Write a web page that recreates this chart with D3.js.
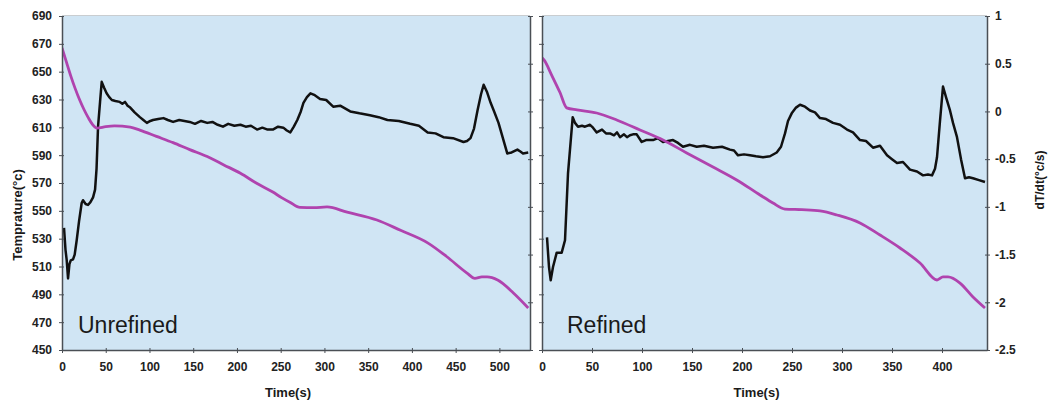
<!DOCTYPE html>
<html>
<head>
<meta charset="utf-8">
<script src="https://cdn.jsdelivr.net/npm/d3@7"></script>
<style>
  html, body { margin: 0; padding: 0; background: #ffffff; }
  svg { display: block; }
  .tick text { font-family: "Liberation Sans", Arial, sans-serif; font-weight: bold; font-size: 12px; fill: #222; }
</style>
</head>
<body>
<svg id="chart" width="1048" height="405"></svg>
<script>
// ---------- data ----------
const tempTicks = [450, 470, 490, 510, 530, 550, 570, 590, 610, 630, 650, 670, 690];
const rateTicks = [1, 0.5, 0, -0.5, -1, -1.5, -2, -2.5];
const timeTicksUnref = [0, 50, 100, 150, 200, 250, 300, 350, 400, 450, 500];
const timeTicksRef = [0, 50, 100, 150, 200, 250, 300, 350, 400];
const panelNames = ["Unrefined", "Refined"];

// Unrefined: temperature (°C) vs time (s)
const tempUnrefTime = [0, 5, 10, 15, 20, 25, 30, 35, 40, 50, 60, 78, 89, 108, 127, 146, 166, 185, 204, 222, 241, 251, 261, 272, 288, 303, 326, 360, 387, 418, 440, 463, 472, 480, 486, 498, 516, 533];
const tempUnref = [667, 657, 647, 638, 630, 623, 617, 612, 609.5, 610.5, 611, 610.2, 608, 603.5, 599, 594, 589, 583, 577, 570, 563.5, 559.5, 556, 552.5, 552.3, 552.8, 549, 543.4, 536, 527, 517, 505.3, 501.5, 502.5, 502.5, 500.3, 491, 480.2];

// Unrefined: cooling rate dT/dt (°C/s) vs time (s)
const rateUnrefTime = [2.3, 4, 5.4, 6.9, 8.5, 10, 12.6, 14.5, 16.8, 19.5, 22.5, 24, 27, 29.7, 32.5, 35.5, 37.8, 39.5, 41.2, 43.5, 45.4, 48, 51, 54, 57, 61, 66, 69, 72, 75, 78, 83, 89, 93, 97, 101, 104, 110, 116, 121, 127, 134, 140, 146, 152, 159, 166, 172, 178, 184, 190, 197, 204, 210, 216, 223, 229, 235, 241, 247, 253, 257, 261, 265, 269, 273, 276, 280, 284, 289, 295, 302, 310, 318, 329.5, 340, 352, 362, 372, 385, 398, 408, 418, 427, 436, 447, 459, 463, 467, 471, 475, 479, 482, 486, 490, 494, 499, 504, 509, 514, 520.6, 524, 527, 533];
const rateUnref = [-1.22, -1.45, -1.56, -1.75, -1.6, -1.56, -1.55, -1.5, -1.35, -1.15, -0.96, -0.93, -0.97, -0.98, -0.95, -0.9, -0.82, -0.6, -0.16, 0.1, 0.31, 0.25, 0.19, 0.15, 0.12, 0.11, 0.1, 0.08, 0.1, 0.06, 0.04, -0.01, -0.06, -0.09, -0.12, -0.1, -0.09, -0.08, -0.07, -0.09, -0.11, -0.09, -0.1, -0.11, -0.13, -0.1, -0.12, -0.11, -0.14, -0.16, -0.13, -0.15, -0.14, -0.16, -0.15, -0.19, -0.17, -0.19, -0.19, -0.16, -0.17, -0.2, -0.22, -0.16, -0.09, 0.0, 0.09, 0.15, 0.19, 0.17, 0.13, 0.12, 0.05, 0.06, 0.0, -0.02, -0.04, -0.06, -0.09, -0.1, -0.13, -0.15, -0.22, -0.23, -0.27, -0.28, -0.32, -0.31, -0.28, -0.18, 0.01, 0.18, 0.28, 0.2, 0.09, 0.0, -0.12, -0.28, -0.44, -0.43, -0.4, -0.42, -0.44, -0.43];

// Refined: temperature (°C) vs time (s)
const tempRefTime = [0, 2, 10, 18, 24.7, 35, 54.7, 74.7, 98, 121, 144.7, 171, 194.7, 218, 231, 243, 260, 278, 295, 318, 338, 358, 378, 395, 401, 406, 418, 431, 443];
const tempRef = [660, 658.4, 647, 635, 624, 622.5, 620.3, 615.3, 608.1, 600.9, 591.6, 581.5, 572.2, 561.4, 555.6, 551.3, 550.8, 549.9, 547, 541.3, 532.6, 523.3, 512.5, 500.3, 502.5, 502.5, 498.1, 488.1, 480.2];

// Refined: cooling rate dT/dt (°C/s) vs time (s)
const rateRefTime = [5, 7, 8.7, 11, 14.7, 19.7, 23, 26, 30.7, 33, 36, 40, 43, 48, 51, 54.7, 60, 64, 68, 72, 75, 78, 82, 85, 88, 91, 94.7, 99.7, 104, 108, 111, 116, 121, 126, 131, 136, 141, 148, 154.7, 162, 171, 180, 188, 192, 196, 202, 208, 214, 221, 228, 234.7, 239, 243, 246, 249.7, 254, 258, 263, 268, 273, 278, 284, 291, 298, 305, 311, 318, 324, 331, 338, 345, 350, 355, 361, 368, 375, 381, 386, 390, 393, 395, 398, 401, 404, 408, 411, 415, 419, 423, 427, 431, 437, 443];
const rateRef = [-1.32, -1.63, -1.77, -1.63, -1.48, -1.48, -1.35, -0.65, -0.06, -0.12, -0.16, -0.15, -0.16, -0.14, -0.17, -0.22, -0.19, -0.23, -0.23, -0.25, -0.22, -0.27, -0.24, -0.27, -0.25, -0.24, -0.24, -0.32, -0.3, -0.3, -0.3, -0.28, -0.32, -0.31, -0.3, -0.33, -0.37, -0.35, -0.37, -0.36, -0.38, -0.37, -0.4, -0.41, -0.46, -0.45, -0.46, -0.47, -0.48, -0.47, -0.43, -0.37, -0.23, -0.1, -0.02, 0.04, 0.07, 0.05, 0.01, -0.01, -0.07, -0.08, -0.12, -0.14, -0.19, -0.22, -0.3, -0.31, -0.38, -0.36, -0.46, -0.5, -0.54, -0.53, -0.61, -0.63, -0.67, -0.66, -0.67, -0.6, -0.48, -0.1, 0.26, 0.15, 0.01, -0.12, -0.27, -0.5, -0.7, -0.69, -0.7, -0.72, -0.74];

// ---------- drawing ----------
const svg = d3.select("#chart");
const plotTop = 16, plotBottom = 350;
const yT = d3.scaleLinear().domain([450, 690]).range([plotBottom, plotTop]);
const yD = d3.scaleLinear().domain([-2.5, 1]).range([plotBottom, plotTop]);

const panels = [
  { name: panelNames[0], labelDx: 16, x: d3.scaleLinear().domain([0, 535]).range([62, 530]), ticks: timeTicksUnref,
    tT: tempUnrefTime, tV: tempUnref, rT: rateUnrefTime, rV: rateUnref, leftLabels: true, rightLabels: false },
  { name: panelNames[1], labelDx: 25, x: d3.scaleLinear().domain([0, 445]).range([542, 987]), ticks: timeTicksRef,
    tT: tempRefTime, tV: tempRef, rT: rateRefTime, rV: rateRef, leftLabels: false, rightLabels: true }
];

const fontFam = '"Liberation Sans", Arial, sans-serif';

panels.forEach((p, i) => {
  const [x0, x1] = p.x.range();
  const g = svg.append("g");
  g.append("rect").attr("x", x0).attr("y", plotTop).attr("width", x1 - x0).attr("height", plotBottom - plotTop)
    .attr("fill", "#d0e5f4");
  g.append("line").attr("x1", x0).attr("x2", x1).attr("y1", plotTop - 0.5).attr("y2", plotTop - 0.5)
    .attr("stroke", "#c9cdd0").attr("stroke-width", 1);

  const clipId = "clip" + i;
  svg.append("clipPath").attr("id", clipId).append("rect")
    .attr("x", x0).attr("y", plotTop).attr("width", x1 - x0).attr("height", plotBottom - plotTop);

  g.append("text").attr("x", x0 + p.labelDx).attr("y", 333).text(p.name)
    .attr("font-family", fontFam).attr("font-size", "23px").attr("fill", "#1a1a1a");

  const tempLine = d3.line().x((d, k) => p.x(p.tT[k])).y(d => yT(d)).curve(d3.curveMonotoneX);
  const rateLine = d3.line().x((d, k) => p.x(p.rT[k])).y(d => yD(d)).curve(d3.curveLinear);
  const lg = g.append("g").attr("clip-path", `url(#${clipId})`);
  lg.append("path").datum(p.rV).attr("d", rateLine).attr("fill", "none")
    .attr("stroke", "#111").attr("stroke-width", 2.5).attr("stroke-linejoin", "round");
  lg.append("path").datum(p.tV).attr("d", tempLine).attr("fill", "none")
    .attr("stroke", "#b043ae").attr("stroke-width", 2.8).attr("stroke-linejoin", "round");

  const xa = g.append("g").attr("transform", `translate(0,${plotBottom})`)
    .call(d3.axisBottom(p.x).tickValues(p.ticks).tickSizeInner(3).tickSizeOuter(0).tickPadding(9));
  xa.select(".domain").attr("stroke", "#4a4f55").attr("stroke-width", 1.5);
  xa.selectAll(".tick line").attr("stroke", "#4a4f55").attr("y1", -2);

  const la = g.append("g").attr("transform", `translate(${x0},0)`)
    .call(d3.axisLeft(yT).tickValues(tempTicks).tickSizeInner(3).tickSizeOuter(0).tickPadding(7));
  la.select(".domain").attr("stroke", "#4a4f55").attr("stroke-width", 1.5);
  la.selectAll(".tick line").attr("stroke", "#4a4f55").attr("x1", 2);
  if (!p.leftLabels) la.selectAll(".tick text").remove();

  const ra = g.append("g").attr("transform", `translate(${x1},0)`)
    .call(d3.axisRight(yD).tickValues(rateTicks).tickFormat(d => String(d)).tickSizeInner(3).tickSizeOuter(0).tickPadding(5));
  ra.select(".domain").attr("stroke", "#4a4f55").attr("stroke-width", 1.5);
  ra.selectAll(".tick line").attr("stroke", "#4a4f55").attr("x1", -2);
  if (!p.rightLabels) ra.selectAll(".tick text").remove();

  g.append("text").attr("x", (x0 + x1) / 2 - 8).attr("y", 397).attr("text-anchor", "middle")
    .attr("font-family", fontFam).attr("font-weight", "bold").attr("font-size", "13px").attr("fill", "#1a1a1a")
    .text("Time(s)");
});

svg.append("text").attr("transform", "translate(22,215) rotate(-90)").attr("text-anchor", "middle")
  .attr("font-family", fontFam).attr("font-weight", "bold").attr("font-size", "13px").attr("fill", "#1a1a1a")
  .text("Temprature(°c)");
svg.append("text").attr("transform", "translate(1044,180) rotate(-90)").attr("text-anchor", "middle")
  .attr("font-family", fontFam).attr("font-weight", "bold").attr("font-size", "12px").attr("fill", "#1a1a1a")
  .text("dT/dt(°c/s)");
</script>
</body>
</html>
